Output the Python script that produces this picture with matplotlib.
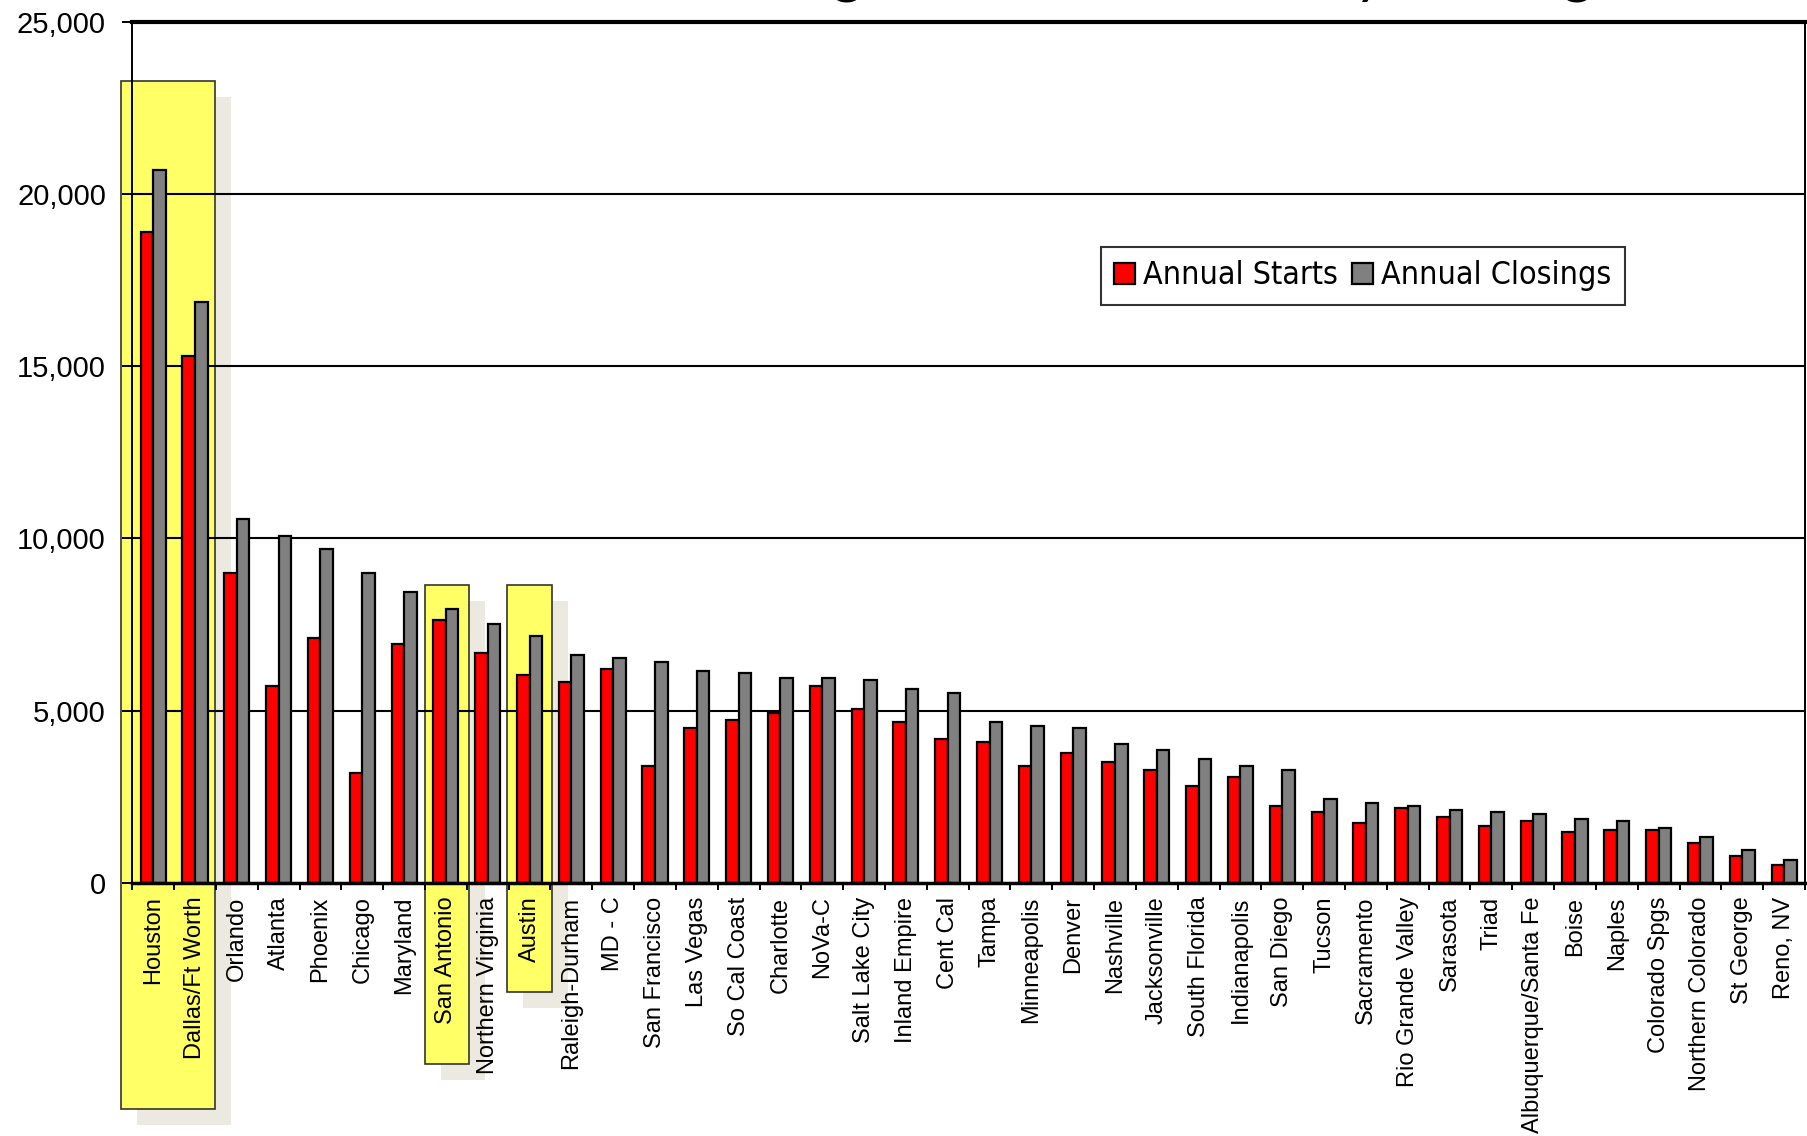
import matplotlib
matplotlib.use('Agg')
import matplotlib.pyplot as plt
import matplotlib.transforms as mtransforms
from matplotlib.patches import Rectangle
from matplotlib import font_manager
import numpy as np

## ---------------------------------------------------------------------
## data
cities = ['Houston', 'Dallas/Ft Worth', 'Orlando', 'Atlanta', 'Phoenix', 'Chicago',
          'Maryland', 'San Antonio', 'Northern Virginia', 'Austin', 'Raleigh-Durham',
          'MD - C', 'San Francisco', 'Las Vegas', 'So Cal Coast', 'Charlotte', 'NoVa-C',
          'Salt Lake City', 'Inland Empire', 'Cent Cal', 'Tampa', 'Minneapolis', 'Denver',
          'Nashville', 'Jacksonville', 'South Florida', 'Indianapolis', 'San Diego',
          'Tucson', 'Sacramento', 'Rio Grande Valley', 'Sarasota', 'Triad',
          'Albuquerque/Santa Fe', 'Boise', 'Naples', 'Colorado Spgs', 'Northern Colorado',
          'St George', 'Reno, NV']

starts = [18900, 15300, 8990, 5710, 7110, 3200, 6920, 7630, 6670, 6040,
          5840, 6200, 3390, 4480, 4740, 4930, 5700, 5050, 4670, 4170,
          4090, 3390, 3770, 3520, 3260, 2820, 3070, 2240, 2050, 1740,
          2180, 1920, 1660, 1790, 1470, 1530, 1530, 1150, 770, 500]

closings = [20690, 16860, 10570, 10060, 9690, 8990, 8450, 7950, 7510, 7180,
            6600, 6520, 6400, 6140, 6090, 5950, 5950, 5890, 5630, 5510,
            4670, 4550, 4480, 4030, 3840, 3580, 3390, 3270, 2420, 2310,
            2240, 2110, 2050, 1990, 1850, 1790, 1600, 1340, 960, 650]

series_names = ['Annual Starts', 'Annual Closings']
y_ticks = [0, 5000, 10000, 15000, 20000, 25000]

## yellow highlight boxes: (first city, last city, top value)
highlights = [('Houston', 'Dallas/Ft Worth', 23300),
              ('San Antonio', 'San Antonio', 8660),
              ('Austin', 'Austin', 8660)]

title = 'Texas Housing Markets Ranked by Closings'

## ---------------------------------------------------------------------
## look for a narrow face for the legend (falls back to plain Liberation Sans)
def findNarrow():
    wanted = ['LiberationSansNarrow-Regular', 'DejaVuSansCondensed.', 'RobotoCondensed-Regular',
              'OpenSans_Condensed-Regular', 'OpenSansCondensed-Regular', 'NotoSans-Condensed.',
              'NotoSansDisplay-Condensed.']
    files = [f.fname for f in font_manager.fontManager.ttflist]
    for w in wanted:
        for fn in files:
            if w.lower() in fn.lower().replace('_', '').replace('-', '') or w.lower() in fn.lower():
                return font_manager.FontProperties(fname=fn)
    for f in font_manager.fontManager.ttflist:
        if f.stretch in ('condensed', 'semi-condensed') and f.style == 'normal' and f.weight in (400, 'normal'):
            return font_manager.FontProperties(fname=f.fname)
    return None

legend_font = findNarrow()
if legend_font is not None:
    legend_font.set_size(23)
    legend_pad = 0.42
else:
    legend_font = font_manager.FontProperties(family='Liberation Sans', size=22.5)
    legend_pad = 0.5

W, H = 1808, 1136
fig = plt.figure(figsize=(W / 100, H / 100), dpi=100)
ax = fig.add_axes([132.3 / W, 1 - 882.7 / H, (1805 - 132.3) / W, (882.7 - 22) / H])

x = np.arange(len(cities))
bw = 0.3
ax.bar(x - bw / 2, starts, bw, color='#FF0000', edgecolor='black', linewidth=1.6,
       label=series_names[0], zorder=3)
ax.bar(x + bw / 2, closings, bw, color='#808080', edgecolor='black', linewidth=1.6,
       label=series_names[1], zorder=3)

ax.set_xlim(-0.5, len(cities) - 0.5)
ax.set_ylim(0, 25000)

## gridlines above the yellow boxes, below the bars
for v in y_ticks[1:-1]:
    ax.axhline(v, color='black', linewidth=1.5, zorder=1.5)

ax.set_yticks(y_ticks)
ax.set_yticklabels(['{:,}'.format(v) for v in y_ticks], fontsize=21, family='Liberation Sans')
ax.tick_params(axis='y', length=7, width=1.4, pad=12, direction='out')

ax.set_xticks(x)
ax.set_xticklabels(cities, rotation=90, fontsize=17, family='Liberation Sans', va='top')
ax.set_xticks(np.arange(len(cities) + 1) - 0.5, minor=True)
ax.tick_params(axis='x', which='major', length=0, pad=10)
ax.tick_params(axis='x', which='minor', length=5, width=1.4, direction='out')

ax.spines['top'].set_linewidth(3)
ax.spines['bottom'].set_linewidth(2.5)
ax.spines['left'].set_linewidth(1.4)
ax.spines['right'].set_linewidth(1.4)
for s in ax.spines.values():
    s.set_zorder(4)
ax.set_axisbelow(True)

## ---------------------------------------------------------------------
## highlight boxes (reach down over the city names)
box_bottom_px = [1109, 1064, 992]
box_left_pad = [0.28, -0.01, 0.05]
inv = ax.transData.inverted()
shadow = ax.transData + mtransforms.ScaledTranslation(16 / 100, -16 / 100, fig.dpi_scale_trans)
for (first, last, top), bot_px, lp in zip(highlights, box_bottom_px, box_left_pad):
    i0 = cities.index(first)
    i1 = cities.index(last)
    left = i0 - 0.5 - lp
    right = i1 + 0.5 - (0.03 if lp > 0.1 else -0.04)
    bottom = inv.transform((0, H - bot_px))[1]
    ax.add_patch(Rectangle((left, bottom), right - left, top - bottom, transform=shadow,
                           facecolor='#ECEAE0', edgecolor='none', clip_on=False, zorder=0.05))
    ax.add_patch(Rectangle((left, bottom), right - left, top - bottom,
                           facecolor='#FFFF66', edgecolor='#333333', linewidth=1.2,
                           clip_on=False, zorder=0.1))

## ---------------------------------------------------------------------
## legend
leg = ax.legend(loc='upper left', bbox_to_anchor=((1101 - 132.3) / (1805 - 132.3), (882.7 - 247) / (882.7 - 22)),
                ncol=2, frameon=True, fancybox=False, prop=legend_font,
                handlelength=0.65, handleheight=0.65, handletextpad=0.25, columnspacing=0.45,
                borderpad=legend_pad, borderaxespad=0)
leg.get_frame().set_edgecolor('black')
leg.get_frame().set_linewidth(1.5)
leg.set_zorder(5)

## title, mostly cut off at the top of the picture
fig.text(478 / W, 1 + 8 / H, title, fontsize=43, family=['Lato', 'DejaVu Sans'],
         ha='left', va='baseline')

fig.savefig('out.png', dpi=100)
